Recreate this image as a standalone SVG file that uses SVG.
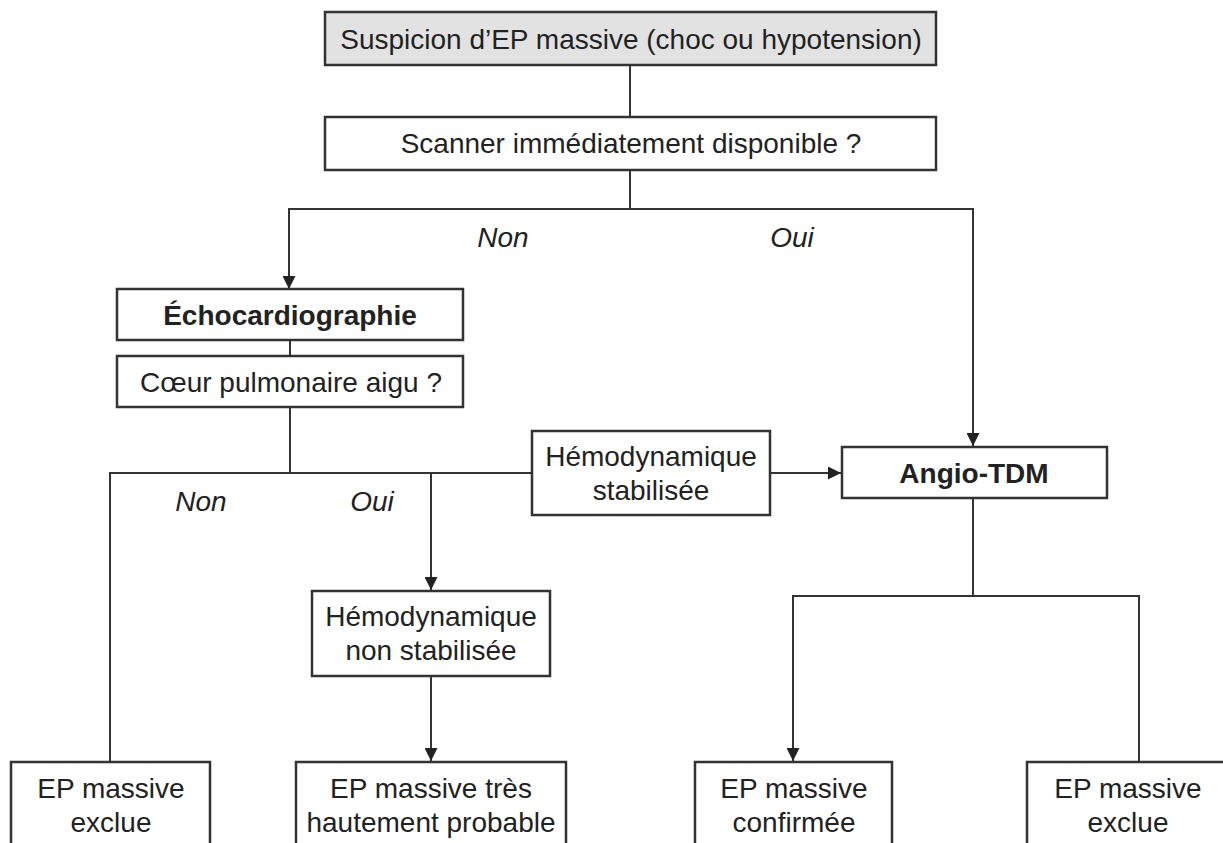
<svg xmlns="http://www.w3.org/2000/svg" width="1223" height="843" viewBox="0 0 1223 843">
<style>
.box{fill:#fff;stroke:#333;stroke-width:2.5}
.gray{fill:#e2e2e2}
.t{font-family:"Liberation Sans",Arial,sans-serif;font-size:28px;fill:#222;text-anchor:middle}
.b{font-weight:bold}
.i{font-style:italic}
.ln{fill:none;stroke:#333;stroke-width:2}
</style>
<defs>
<marker id="ah" viewBox="0 0 13 13" refX="13" refY="6.5" markerWidth="13" markerHeight="13" markerUnits="userSpaceOnUse" orient="auto">
<path d="M0,0 L13,6.5 L0,13 z" fill="#222"/>
</marker>
</defs>
<rect width="1223" height="843" fill="#fff"/>
<g id="connectors">
<path class="ln" d="M630,65 V117"/>
<path class="ln" d="M630,170 V209"/>
<path class="ln" d="M973,209 H289 V289" marker-end="url(#ah)"/>
<path class="ln" d="M630,209 H973 V446" marker-end="url(#ah)"/>
<path class="ln" d="M290,340 V356"/>
<path class="ln" d="M290,407 V473"/>
<path class="ln" d="M532,473 H110 V762"/>
<path class="ln" d="M431,473 V590" marker-end="url(#ah)"/>
<path class="ln" d="M770,473 H841" marker-end="url(#ah)"/>
<path class="ln" d="M973,498 V596"/>
<path class="ln" d="M973,596 H793 V761" marker-end="url(#ah)"/>
<path class="ln" d="M973,596 H1139 V762"/>
<path class="ln" d="M431,676 V761" marker-end="url(#ah)"/>
</g>
<g id="labels">
<text class="t i" x="503" y="247">Non</text>
<text class="t i" x="792" y="247">Oui</text>
<text class="t i" x="201" y="511">Non</text>
<text class="t i" x="372" y="511">Oui</text>
</g>
<g id="n-suspicion">
<rect class="box gray" x="325" y="12" width="611" height="53"/>
<text class="t" x="631" y="49">Suspicion d’EP massive (choc ou hypotension)</text>
</g>
<g id="n-scanner">
<rect class="box" x="325" y="117" width="611" height="53"/>
<text class="t" x="631" y="153">Scanner immédiatement disponible ?</text>
</g>
<g id="n-echo">
<rect class="box" x="117" y="289" width="346" height="51"/>
<text class="t b" x="290" y="325">Échocardiographie</text>
</g>
<g id="n-coeur">
<rect class="box" x="117" y="356" width="346" height="51"/>
<text class="t" x="291" y="392">Cœur pulmonaire aigu ?</text>
</g>
<g id="n-hemo-stab">
<rect class="box" x="532" y="431" width="238" height="84"/>
<text class="t" x="651" y="466">Hémodynamique</text>
<text class="t" x="651" y="500">stabilisée</text>
</g>
<g id="n-angio">
<rect class="box" x="842" y="447" width="265" height="51"/>
<text class="t b" x="974" y="483">Angio-TDM</text>
</g>
<g id="n-hemo-nonstab">
<rect class="box" x="312" y="591" width="238" height="85"/>
<text class="t" x="431" y="626">Hémodynamique</text>
<text class="t" x="431" y="660">non stabilisée</text>
</g>
<g id="n-exclue1">
<rect class="box" x="11" y="762" width="199" height="100"/>
<text class="t" x="111" y="798">EP massive</text>
<text class="t" x="111" y="832">exclue</text>
</g>
<g id="n-probable">
<rect class="box" x="296" y="762" width="270" height="100"/>
<text class="t" x="431" y="798">EP massive très</text>
<text class="t" x="431" y="832">hautement probable</text>
</g>
<g id="n-confirmee">
<rect class="box" x="695" y="762" width="197" height="100"/>
<text class="t" x="794" y="798">EP massive</text>
<text class="t" x="794" y="832">confirmée</text>
</g>
<g id="n-exclue2">
<rect class="box" x="1027" y="762" width="220" height="100"/>
<text class="t" x="1128" y="798">EP massive</text>
<text class="t" x="1128" y="832">exclue</text>
</g>
</svg>
